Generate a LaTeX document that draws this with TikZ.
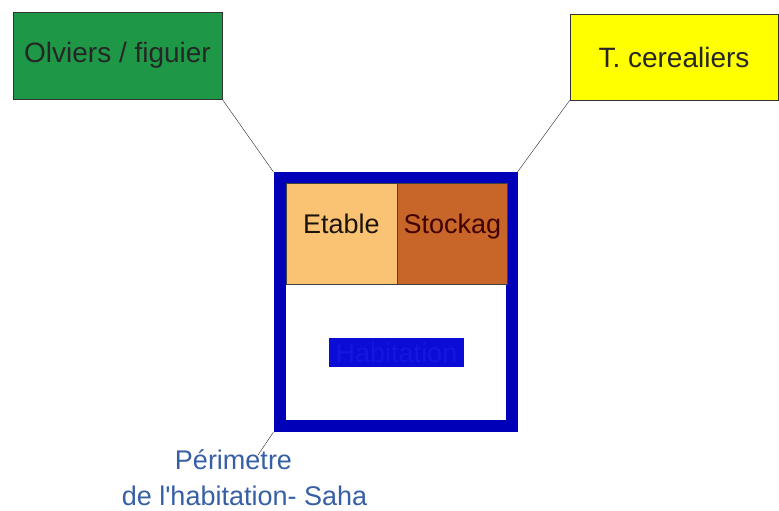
\documentclass[tikz,border=0pt]{standalone}
\usepackage{fontspec}
\setmainfont{Liberation Sans}
\usetikzlibrary{positioning}
\definecolor{olivegreen}{RGB}{30,152,70}
\definecolor{cerealyellow}{RGB}{255,255,0}
\definecolor{etablecol}{RGB}{250,195,115}
\definecolor{stockcol}{RGB}{200,102,42}
\definecolor{framecol}{RGB}{0,0,185}
\definecolor{habcol}{RGB}{12,12,215}
\definecolor{habtext}{RGB}{22,22,228}
\definecolor{perimcol}{RGB}{55,95,165}

\begin{document}
\begin{tikzpicture}[
            x=1pt, y=-1pt,
            node distance=0pt,
            every node/.style={font=\fontsize{27}{32}\selectfont},
            parcel/.style={rectangle, draw=black!80, thin, inner sep=0pt, text=black!85, font=\fontsize{28}{32}\selectfont},
            room/.style={rectangle, draw=black!75, thin, inner sep=0pt, minimum width=110.5pt, minimum height=101pt, text depth=19pt},
            caption/.style={text=perimcol},
            link/.style={thin, black!85}
        ]
            \useasboundingbox (0,0) rectangle (779,511);

            % --- Node Placement ---
            \node[parcel, fill=olivegreen, minimum width=209pt, minimum height=87pt] (olive) at (117.5,55.5) {Olviers / figuier};
            \node[parcel, fill=cerealyellow, minimum width=208pt, minimum height=86pt] (cereal) at (674,57) {T. cerealiers};

            \node[rectangle, draw=framecol, line width=12pt, minimum width=232pt, minimum height=248pt] (saha) at (395.5,302) {};
            \node[room, fill=etablecol, text=black!85!brown, anchor=north west] (etable) at (286,183) {Etable};
            \node[room, fill=stockcol, text=black!75!red, right=of etable] (stock) {Stockag};
            \node[rectangle, fill=habcol, text=habtext, inner sep=0pt, minimum width=135pt, minimum height=29pt] (habit) at (396.5,352.5) {Habitation};

            \node[caption] (perim) at (233.5,460) {P\'erimetre};
            \node[caption] (perimsub) at (244.5,496) {de l\textquotesingle habitation- Saha};
            \coordinate (perimtip) at (258,455);

            % --- Link Drawing ---
            \draw[link] (olive.south east) -- (saha.north west);
            \draw[link] (cereal.south west) -- (saha.north east);
            \draw[link] (saha.south west) -- (perimtip);

        \end{tikzpicture}
\end{document}
